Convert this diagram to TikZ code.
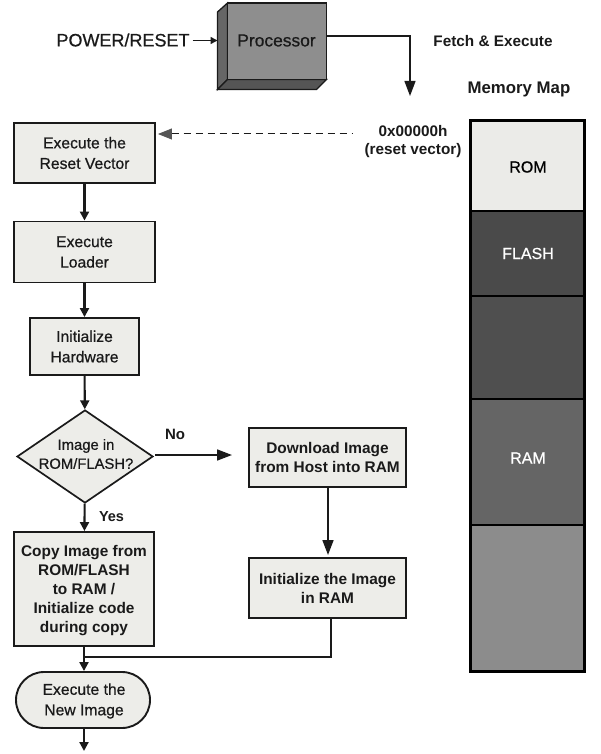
\documentclass[tikz,border=0pt]{standalone}
\usepackage{fontspec}
\setmainfont{Liberation Sans}
\newfontfamily\medfont[FakeBold=0.7]{Liberation Sans}
\usetikzlibrary{shapes.geometric,shapes.misc,arrows.meta,calc}
\definecolor{boxfill}{HTML}{EDEDE9}
\definecolor{procfront}{HTML}{8E8E8E}
\definecolor{procleft}{HTML}{666666}
\definecolor{procbot}{HTML}{555555}
\definecolor{memrom}{HTML}{EBEBE8}
\definecolor{memflash}{HTML}{4A4A4A}
\definecolor{memdark}{HTML}{4F4F4F}
\definecolor{memram}{HTML}{656565}
\definecolor{memlow}{HTML}{8C8C8C}
\definecolor{ink}{HTML}{1A1A1A}
\definecolor{dashhead}{HTML}{555555}
\tikzset{
  x=1pt,y=-1pt,
  flowbox/.style={draw=ink,line width=1.9pt,fill=boxfill,inner sep=0pt,align=center,text=ink,font=\medfont\fontsize{15.7}{20.5}\selectfont},
  boldbox/.style={flowbox,font=\fontsize{15.4}{19}\selectfont\bfseries},
  link/.style={draw=ink,line width=2.1pt},
  linkarrow/.style={link,-{Triangle[length=9pt,width=9pt]}},
  bigarrow/.style={link,line width=1.7pt,-{Triangle[length=15pt,width=11pt]}},
  memcell/.style={draw=black,line width=1.3pt,minimum width=113pt,inner sep=0pt},
  memtext/.style={inner sep=0pt,font=\medfont\fontsize{16}{19}\selectfont},
  plainlabel/.style={inner sep=0pt,text=ink,align=center}
}
\newcommand{\boxat}[6]{\node[#1,minimum width=#4pt,minimum height=#5pt] (#2) at (#3) {#6};}
\begin{document}
\begin{tikzpicture}
\useasboundingbox (0,0) rectangle (600,754);
% processor
\fill[procleft,draw=ink,line width=1.3pt] (217.5,12) -- (227.5,3) -- (227.5,79.5) -- (217.5,89.5) -- cycle;
\fill[procbot,draw=ink,line width=1.3pt] (227.5,79.5) -- (326.5,79.5) -- (316.5,89.5) -- (217.5,89.5) -- cycle;
\node[draw=ink,line width=1.3pt,fill=procfront,minimum width=99pt,minimum height=76.5pt,inner sep=0pt,text=ink] (proc) at (277,41.25) {};
\node[plainlabel,font=\medfont\fontsize{17.4}{20}\selectfont] (proct) at (276.5,40.5) {Processor};
\node[plainlabel,font=\medfont\fontsize{18}{20}\selectfont] (power) at (123,40) {POWER/RESET};
\coordinate (procin) at (217.5,40.5);
\draw[link,line width=1.5pt,-{Triangle[length=7pt,width=7pt]}] (power.east) ++(3,0.5) -- (procin);
\coordinate (fetchend) at (410,96);
\draw[link,line width=1.3pt,-{Triangle[length=15pt,width=11pt]}] (proc.east |- 0,36) -| (fetchend);
\node[plainlabel,font=\fontsize{15.3}{16}\selectfont\bfseries] (fetch) at (493,41.5) {Fetch \& Execute};
\node[plainlabel,font=\fontsize{16.8}{18}\selectfont\bfseries] (mmap) at (519,89.5) {Memory Map};
\node[plainlabel,font=\fontsize{15.3}{18.5}\selectfont\bfseries] (reset) at (413,141.5) {0x00000h\\(reset vector)};
% memory map
\node[memcell,fill=memrom,minimum height=90pt] (rom) at (527.5,166) {};
\node[memcell,fill=memflash,minimum height=85pt] (flash) at (527.5,253.5) {};
\node[memcell,fill=memdark,minimum height=103pt] (gap) at (527.5,347.5) {};
\node[memcell,fill=memram,minimum height=126pt] (ram) at (527.5,462) {};
\node[memcell,fill=memlow,minimum height=146pt] (low) at (527.5,598) {};
\draw[black,line width=1.8pt] (rom.north west) rectangle (low.south east);
\node[memtext,text=black] (romt) at (528,167) {ROM};
\node[memtext,text=white] (flasht) at (528,253.5) {FLASH};
\node[memtext,text=white] (ramt) at (528,458) {RAM};
% flow
\boxat{flowbox}{a}{84.5,153}{141}{60}{Execute the\\Reset Vector}
\boxat{flowbox}{b}{84.5,252}{141}{61}{Execute\\Loader}
\boxat{flowbox}{c}{84.5,346.5}{109}{57}{Initialize\\Hardware}
\node[diamond,draw=ink,line width=1.7pt,fill=boxfill,minimum width=136pt,minimum height=93pt,inner sep=0pt,aspect=1.46] (d) at (85,456.5) {};
\node[plainlabel,font=\medfont\fontsize{14.8}{19}\selectfont] (dt) at (86,454) {Image in\\ROM/FLASH?};
\boxat{boldbox}{dl}{327.5,457.5}{157}{59}{Download Image\\from Host into RAM}
\boxat{boldbox}{ini}{327.5,588}{157}{60}{\raisebox{-1pt}{Initialize the Image}\\\raisebox{-1pt}{in RAM}}
\node[boldbox,minimum width=140pt,minimum height=114pt] (copy) at (84,589) {};
\node[plainlabel,font=\fontsize{15.4}{19}\selectfont\bfseries] (copyt) at (84,590.5) {Copy Image from\\ROM/FLASH\\to RAM /\\Initialize code\\during copy};
\node[rounded rectangle,draw=ink,line width=1.9pt,fill=boxfill,minimum width=134pt,minimum height=56pt,inner sep=0pt] (ne) at (83,700) {};
\node[plainlabel,font=\medfont\fontsize{15.7}{20.5}\selectfont] (net) at (84,701) {Execute the\\New Image};
\coordinate (dash) at (352,134);
\draw[draw=ink,line width=1pt,dash pattern=on 7pt off 5pt,{Triangle[length=14pt,width=11pt,color=dashhead]}-] ($(a.east |- dash)+(2,0)$) -- (dash);
\draw[linkarrow] (a) -- (b);
\draw[linkarrow] (b) -- (c);
\draw[linkarrow] (c) -- (d);
\coordinate (nostart) at (155,455);
\coordinate (noend) at (232,455);
\draw[bigarrow] (nostart) -- (noend);
\node[plainlabel,font=\fontsize{15}{16}\selectfont\bfseries] (no) at (175,434) {No};
\draw[linkarrow] (d) -- (copy);
\node[plainlabel,font=\fontsize{14.5}{16}\selectfont\bfseries] (yes) at (111.5,517) {Yes};
\coordinate (iniin) at (328,555);
\draw[bigarrow] (dl.south -| iniin) -- (iniin);
\coordinate (merge) at (84,657);
\draw[link,line width=1.7pt] (ini.south -| 331,0) |- (merge);
\draw[linkarrow] (copy) -- (ne.north -| copy);
\coordinate (out) at (84,751);
\draw[linkarrow] (ne.south -| out) -- (out);
\end{tikzpicture}
\end{document}
